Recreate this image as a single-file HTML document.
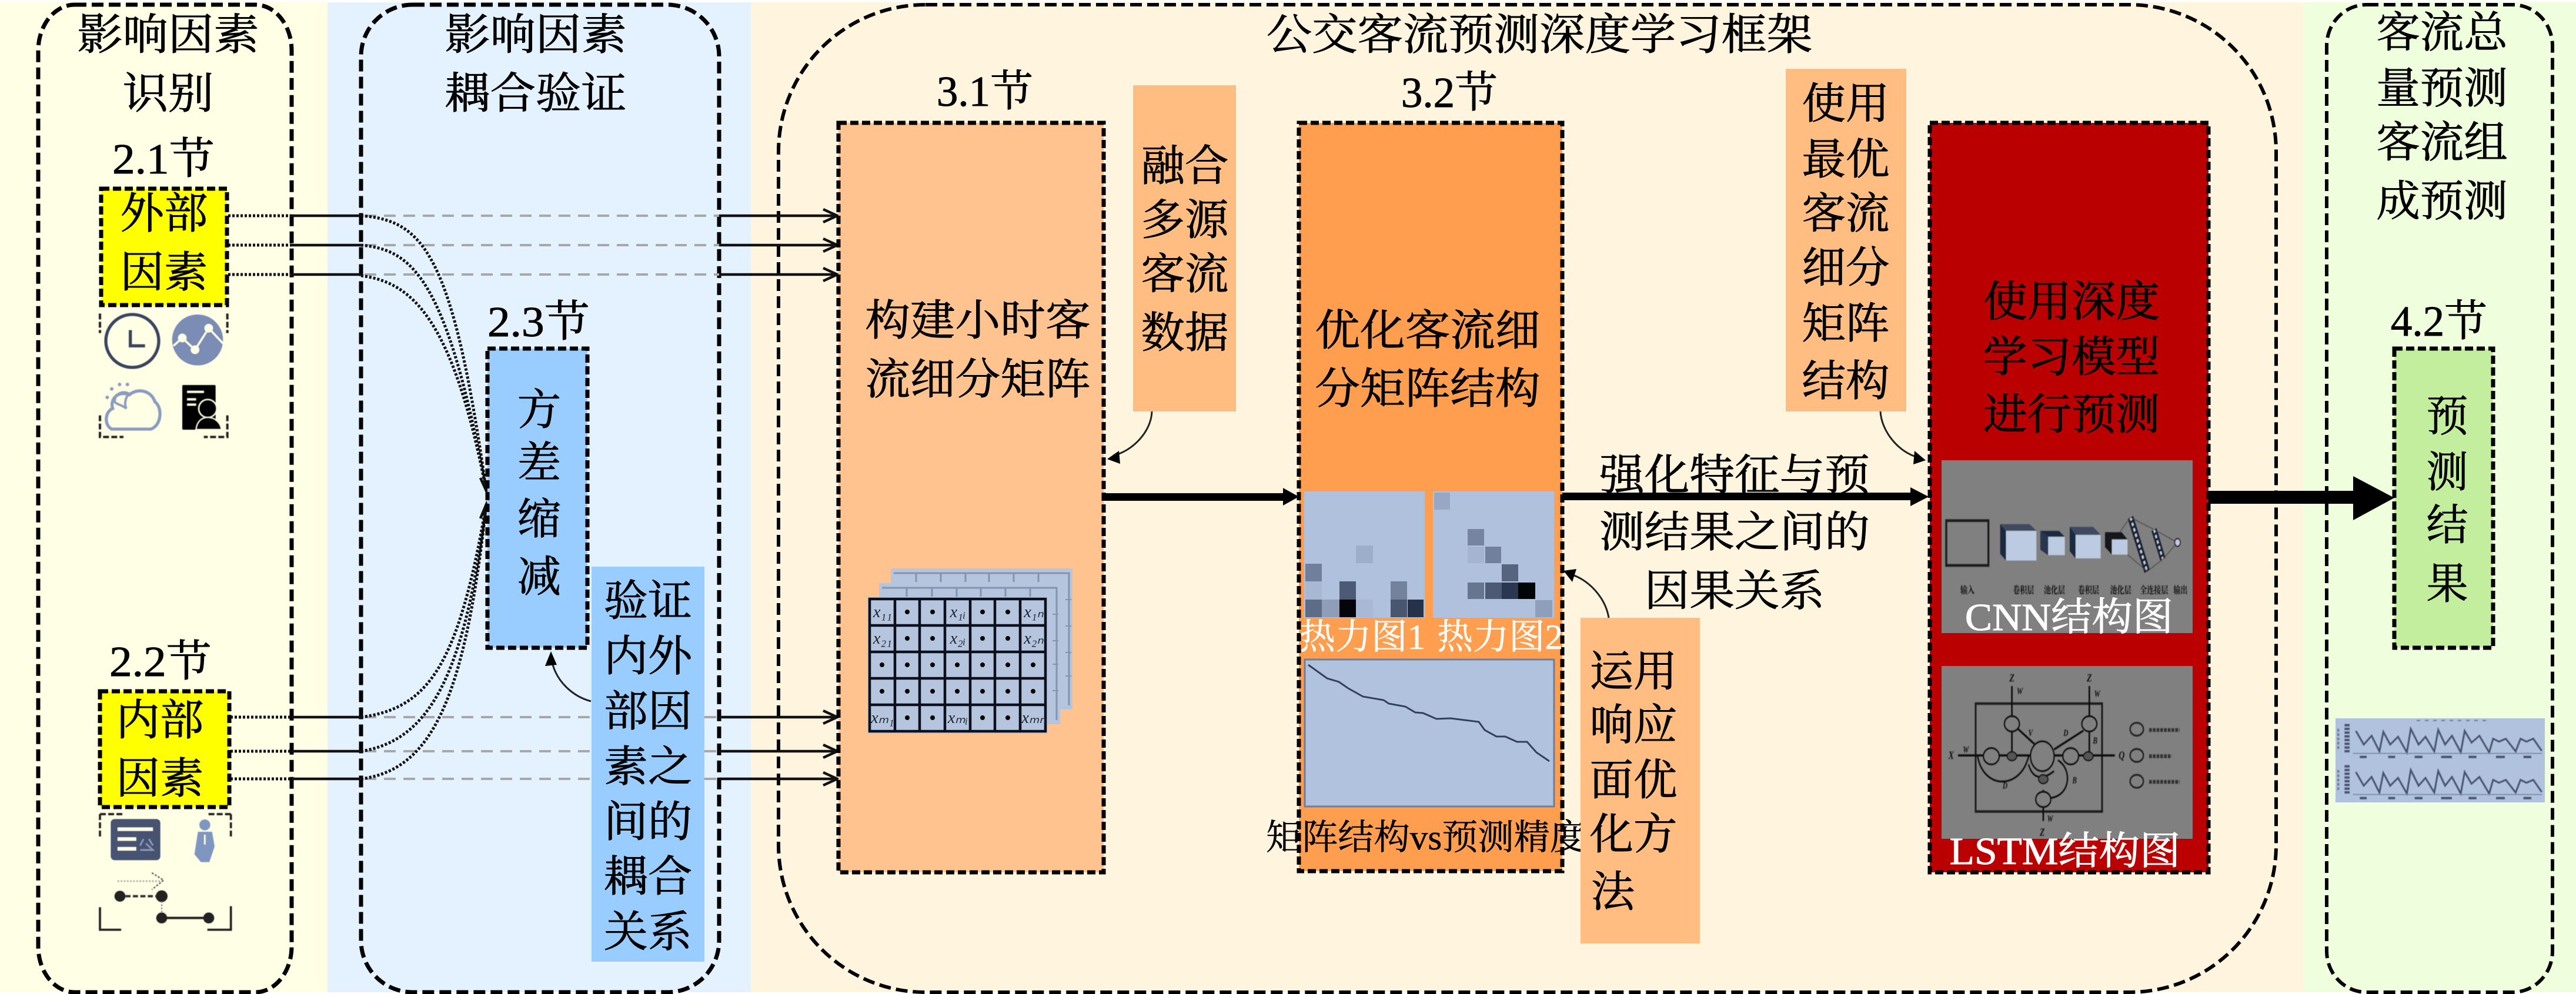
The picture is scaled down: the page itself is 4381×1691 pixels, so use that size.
<!DOCTYPE html>
<html lang="zh">
<head>
<meta charset="utf-8">
<title>公交客流预测深度学习框架</title>
<style>
html,body{margin:0;padding:0;background:#fff;}
svg{display:block;}
text{font-family:"Liberation Serif","Noto Serif CJK SC",serif;text-anchor:middle;fill:#000;font-size:73px;stroke:#000;stroke-width:.9px;}
.w{fill:#fff;stroke:#fff;}
.s{font-size:60px;stroke-width:.5px;}
.m{font-size:66px;}
.n{stroke:none;}
.p{fill:none;stroke:#000;stroke-width:7;stroke-dasharray:20 9;}
.b{stroke:#000;stroke-width:7;stroke-dasharray:14 6;}
.h{fill:none;stroke:#111;stroke-width:4.5;}
.g{fill:none;stroke:#a8a8a8;stroke-width:4;stroke-dasharray:20 13;}
.d{fill:none;stroke:#111;stroke-width:5;stroke-dasharray:4 3;}
.c{fill:none;stroke:#222;stroke-width:3;}
</style>
</head>
<body>
<svg xmlns="http://www.w3.org/2000/svg" width="4381" height="1691" viewBox="0 0 4381 1691">
<defs>
<filter id="bl" x="-5%" y="-5%" width="110%" height="110%"><feGaussianBlur stdDeviation="1.5"/></filter>
</defs>

<!-- backgrounds -->
<rect width="4381" height="1691" fill="#fff"/>
<rect x="0" y="4" width="557" height="1684" fill="#FFFFE6"/>
<rect x="557" y="4" width="720" height="1684" fill="#E4F1FF"/>
<rect x="1277" y="4" width="2640" height="1684" fill="#FFF5DF"/>
<rect x="3917" y="4" width="464" height="1684" fill="#EFFEDC"/>

<!-- large panels -->
<rect class="p" x="65" y="8" width="431" height="1680" rx="62" ry="78"/>
<rect class="p" x="614" y="8" width="609" height="1680" rx="88" ry="88"/>
<rect class="p" x="1324" y="8" width="2547" height="1680" rx="250" ry="250" style="stroke-width:6"/>
<rect class="p" x="3957" y="8" width="384" height="1680" rx="68" ry="70" style="stroke-width:6"/>

<!-- headings -->
<text transform="matrix(1.06 0 0 1 286 84)">影响因素</text>
<text transform="matrix(1.06 0 0 1 286 184)">识别</text>
<text transform="matrix(1.06 0 0 1 911 84)">影响因素</text>
<text transform="matrix(1.06 0 0 1 911 184)">耦合验证</text>
<text transform="matrix(1.06 0 0 1 2618 84)">公交客流预测深度学习框架</text>
<text transform="matrix(1.02 0 0 1 4153 80)">客流总</text>
<text transform="matrix(1.02 0 0 1 4153 175)">量预测</text>
<text transform="matrix(1.02 0 0 1 4153 267)">客流组</text>
<text transform="matrix(1.02 0 0 1 4153 367)">成预测</text>

<!-- section labels -->
<text transform="matrix(1.06 0 0 1 278 295)">2.1节</text>
<text transform="matrix(1.06 0 0 1 273 1150)">2.2节</text>
<text transform="matrix(1.06 0 0 1 916 572)">2.3节</text>
<text transform="matrix(1 0 0 1 1675 180)">3.1节</text>
<text transform="matrix(1 0 0 1 2465 182)">3.2节</text>
<text transform="matrix(1 0 0 1 4148 571)">4.2节</text>

<!-- connectors, left block -->
<path class="d" d="M388 367H496M388 417H496M388 467H496M392 1220H496M392 1278H496M392 1325H496"/>
<path class="h" d="M496 367H614M496 417H614M496 467H614M496 1220H614M496 1278H614M496 1325H614"/>
<path class="g" d="M620 367H1223M620 417H1223M620 467H1223M620 1220H1006M620 1278H1006M620 1325H1006M1198 1220H1223M1198 1278H1223M1198 1325H1223"/>
<path class="h" d="M1223 367H1424M1223 417H1424M1223 467H1424M1223 1220H1424M1223 1278H1424M1223 1325H1424"/>
<path class="h" d="M1400 356L1424 367L1400 378M1400 406L1424 417L1400 428M1400 456L1424 467L1400 478M1400 1209L1424 1220L1400 1231M1400 1267L1424 1278L1400 1289M1400 1314L1424 1325L1400 1336"/>
<path class="d" d="M614 367C720 375 770 430 827 835M614 417C700 425 760 470 827 835M614 469C700 480 770 540 827 835"/>
<path class="d" d="M614 1220C730 1205 780 1130 827 858M614 1278C730 1260 790 1150 827 858M614 1325C730 1310 790 1200 827 858"/>
<path class="h" d="M817 813L827 835L833 808M817 882L827 858L833 877"/>

<!-- yellow boxes -->
<rect class="b" x="172" y="321" width="214" height="198" fill="#FFFF00"/>
<text transform="matrix(1.02 0 0 1 279 388)">外部</text>
<text transform="matrix(1.02 0 0 1 279 488)">因素</text>
<rect class="b" x="170" y="1176" width="220" height="197" fill="#FFFF00"/>
<text transform="matrix(1.02 0 0 1 272 1250)">内部</text>
<text transform="matrix(1.02 0 0 1 272 1349)">因素</text>

<!-- external factor icons -->
<g transform="translate(120 520) scale(.33333)" filter="url(#bl)">
  <path d="M150 40V140M800 40V140M150 560V670H270M800 560V670H680" fill="none" stroke="#222" stroke-width="12" stroke-dasharray="30 12"/>
  <circle cx="315" cy="180" r="135" fill="none" stroke="#3A4560" stroke-width="16"/>
  <path d="M305 125V205H380" fill="none" stroke="#3A4560" stroke-width="16"/>
  <circle cx="648" cy="175" r="130" fill="#7C8DB5"/>
  <path d="M525 205L570 165L635 225L705 115L780 195" fill="none" stroke="#FFFFE6" stroke-width="10"/>
  <circle cx="570" cy="165" r="22" fill="#FFFFE6"/><circle cx="635" cy="225" r="22" fill="#FFFFE6"/><circle cx="705" cy="115" r="22" fill="#FFFFE6"/>
  <path d="M210 630C170 610 175 540 215 525C200 480 240 430 300 455C340 420 410 430 430 490C470 520 465 610 410 630Z" fill="none" stroke="#8B9CC0" stroke-width="16"/>
  <path d="M225 490C225 450 265 430 300 450C275 470 275 510 285 525C260 505 235 505 225 490Z" fill="none" stroke="#8B9CC0" stroke-width="12"/>
  <circle cx="210" cy="425" r="9" fill="#8B9CC0"/><circle cx="250" cy="402" r="9" fill="#8B9CC0"/><circle cx="290" cy="402" r="9" fill="#8B9CC0"/><circle cx="187" cy="468" r="9" fill="#8B9CC0"/>
  <rect x="570" y="405" width="170" height="228" rx="6" fill="#000"/>
  <path d="M595 440H680M595 478H640M595 505H640" stroke="#FFFFE6" stroke-width="10"/>
  <circle cx="700" cy="525" r="46" fill="#000" stroke="#FFFFE6" stroke-width="6"/>
  <path d="M640 632C645 590 670 570 700 570C735 570 765 595 770 632Z" fill="#000" stroke="#FFFFE6" stroke-width="5"/>
</g>

<!-- internal factor icons -->
<g transform="translate(120 1370) scale(.33333)" filter="url(#bl)">
  <path d="M150 45V170M818 45V170M818 45H700M150 45H270" fill="none" stroke="#222" stroke-width="11" stroke-dasharray="30 12"/>
  <path d="M150 520V635H258M818 515V635H698" fill="none" stroke="#222" stroke-width="11"/>
  <rect x="205" y="70" width="253" height="210" rx="20" fill="#46536F"/>
  <path d="M240 122H420M240 172H335M240 222H335" stroke="#FFFFE6" stroke-width="18"/>
  <path d="M372 172L355 205M400 172L420 205M355 228H420L385 195" fill="none" stroke="#8B9CC0" stroke-width="8"/>
  <circle cx="685" cy="100" r="28" fill="#7F96C0"/>
  <path d="M650 135H722L735 210L708 290H665L632 250Z" fill="#7F96C0"/>
  <path d="M685 150V200" stroke="#FFFFE6" stroke-width="8"/>
  <path d="M240 387H470" stroke="#A8A8A0" stroke-width="8" stroke-dasharray="8 8"/>
  <path d="M415 345L475 382L415 430" fill="none" stroke="#555" stroke-width="7" stroke-dasharray="10 8"/>
  <circle cx="252" cy="464" r="28" fill="#222"/><circle cx="465" cy="464" r="30" fill="#222"/>
  <path d="M280 464H440" stroke="#333" stroke-width="12" stroke-dasharray="26 12"/>
  <path d="M465 490V550" stroke="#777" stroke-width="6" stroke-dasharray="8 8"/>
  <circle cx="465" cy="575" r="28" fill="#222"/><circle cx="705" cy="575" r="28" fill="#222"/>
  <path d="M465 575H705" stroke="#222" stroke-width="12"/>
</g>

<!-- variance box -->
<rect class="b" x="829" y="593" width="170" height="509" fill="#99CCFF"/>
<text transform="matrix(1.02 0 0 1 917 722)">方</text>
<text transform="matrix(1.02 0 0 1 917 812)">差</text>
<text transform="matrix(1.02 0 0 1 917 908)">缩</text>
<text transform="matrix(1.02 0 0 1 917 1006)">减</text>

<!-- verification box -->
<rect x="1006" y="964" width="192" height="672" fill="#99CCFF"/>
<text transform="matrix(1.03 0 0 1 1102 1047)">验证</text>
<text transform="matrix(1.03 0 0 1 1102 1141)">内外</text>
<text transform="matrix(1.03 0 0 1 1102 1235)">部因</text>
<text transform="matrix(1.03 0 0 1 1102 1329)">素之</text>
<text transform="matrix(1.03 0 0 1 1102 1423)">间的</text>
<text transform="matrix(1.03 0 0 1 1102 1516)">耦合</text>
<text transform="matrix(1.03 0 0 1 1102 1610)">关系</text>
<path class="c" d="M1005 1193C975 1185 945 1160 938 1122"/>
<path d="M937 1108L927 1133L947 1131Z" fill="#000"/>

<!-- 3.1 box -->
<rect class="b" x="1426" y="209" width="451" height="1275" fill="#FEC38E"/>
<text transform="matrix(1.05 0 0 1 1663 570)">构建小时客</text>
<text transform="matrix(1.05 0 0 1 1663 670)">流细分矩阵</text>

<!-- matrix stack -->
<g>
  <rect x="1515" y="967" width="309" height="240" fill="#B5C5DE"/>
  <path d="M1520 975H1818V1200M1558 975V990M1600 975V990M1642 975V990M1682 975V990M1724 975V990M1766 975V990" fill="none" stroke="#8494B0" stroke-width="3"/>
  <rect x="1495" y="992" width="308" height="240" fill="#B5C5DE"/>
  <path d="M1500 1000H1797V1225M1542 1000V1015M1585 1000V1015M1627 1000V1015M1668 1000V1015M1710 1000V1015M1752 1000V1015" fill="none" stroke="#8494B0" stroke-width="3"/>
  <path d="M1790 1045H1800M1790 1090H1800M1790 1130H1800M1790 1175H1800M1812 1020H1822M1812 1065H1822M1812 1110H1822M1812 1150H1822" stroke="#8494B0" stroke-width="2"/>
  <rect x="1476" y="1016" width="305" height="232" fill="#B5C5DE"/>
  <path d="M1479 1019H1778V1244H1479ZM1479 1064H1778M1479 1109H1778M1479 1154H1778M1479 1199H1778M1522 1019V1244M1564 1019V1244M1607 1019V1244M1650 1019V1244M1692 1019V1244M1735 1019V1244" fill="none" stroke="#0A0F1C" stroke-width="4.5"/>
  <path d="M1543 1041h0M1586 1041h0M1671 1041h0M1714 1041h0M1543 1086h0M1586 1086h0M1671 1086h0M1714 1086h0M1500 1131h0M1543 1131h0M1586 1131h0M1628 1131h0M1671 1131h0M1714 1131h0M1757 1131h0M1500 1176h0M1543 1176h0M1586 1176h0M1628 1176h0M1671 1176h0M1714 1176h0M1757 1176h0M1543 1221h0M1586 1221h0M1671 1221h0M1714 1221h0" stroke="#000" stroke-width="8" stroke-linecap="round"/>
  <g style="font-style:italic">
    <text class="n" x="1501" y="1050" style="font-size:28px;fill:#1c2130">x₁₁</text>
    <text class="n" x="1629" y="1050" style="font-size:28px;fill:#1c2130">x₁ᵢ</text>
    <text class="n" x="1758" y="1050" style="font-size:28px;fill:#1c2130">x₁ₙ</text>
    <text class="n" x="1501" y="1095" style="font-size:28px;fill:#1c2130">x₂₁</text>
    <text class="n" x="1629" y="1095" style="font-size:28px;fill:#1c2130">x₂ᵢ</text>
    <text class="n" x="1758" y="1095" style="font-size:28px;fill:#1c2130">x₂ₙ</text>
    <text class="n" x="1501" y="1230" style="font-size:28px;fill:#1c2130">xₘ₁</text>
    <text class="n" x="1629" y="1230" style="font-size:28px;fill:#1c2130">xₘᵢ</text>
    <text class="n" x="1758" y="1230" style="font-size:28px;fill:#1c2130">xₘₙ</text>
  </g>
</g>

<!-- fuse box -->
<rect x="1927" y="145" width="175" height="555" fill="#FFBD82"/>
<text transform="matrix(1.02 0 0 1 2015 307)">融合</text>
<text transform="matrix(1.02 0 0 1 2015 399)">多源</text>
<text transform="matrix(1.02 0 0 1 2015 491)">客流</text>
<text transform="matrix(1.02 0 0 1 2015 591)">数据</text>
<path class="c" d="M1959 700C1958 735 1925 768 1893 775"/>
<path d="M1883 781L1903 767L1905 789Z" fill="#000"/>

<!-- thick arrow 3.1 to 3.2 -->
<path d="M1877 839H2182V830L2209 845L2182 860V852H1877Z" fill="#000"/>

<!-- 3.2 box -->
<rect class="b" x="2209" y="209" width="448" height="1273" fill="#FF9E4F"/>
<text transform="matrix(1.05 0 0 1 2428 587)">优化客流细</text>
<text transform="matrix(1.05 0 0 1 2428 686)">分矩阵结构</text>

<!-- heat map 1 -->
<rect x="2218" y="836" width="205" height="215" fill="#B0C1DD"/>
<g>
  <rect x="2306" y="928" width="29" height="30" fill="#9DAECB"/>
  <rect x="2220" y="959" width="28" height="30" fill="#6F7F9C"/>
  <rect x="2220" y="989" width="28" height="31" fill="#A8B8D3"/>
  <rect x="2278" y="989" width="28" height="31" fill="#4C5A75"/>
  <rect x="2365" y="989" width="28" height="31" fill="#75829B"/>
  <rect x="2220" y="1020" width="28" height="30" fill="#5E6C88"/>
  <rect x="2248" y="1020" width="30" height="30" fill="#8F9DB8"/>
  <rect x="2278" y="1020" width="28" height="30" fill="#03050A"/>
  <rect x="2306" y="1020" width="29" height="30" fill="#A9B9D5"/>
  <rect x="2365" y="1020" width="28" height="30" fill="#4A566F"/>
  <rect x="2394" y="1020" width="27" height="30" fill="#26324A"/>
</g>
<!-- heat map 2 -->
<rect x="2437" y="836" width="206" height="215" fill="#B0C1DD"/>
<g>
  <rect x="2439" y="838" width="27" height="29" fill="#98A8C4"/>
  <rect x="2496" y="900" width="28" height="28" fill="#76849F"/>
  <rect x="2496" y="930" width="28" height="28" fill="#A5B4CF"/>
  <rect x="2526" y="930" width="27" height="28" fill="#71809C"/>
  <rect x="2554" y="960" width="28" height="29" fill="#566480"/>
  <rect x="2496" y="991" width="28" height="28" fill="#667590"/>
  <rect x="2526" y="991" width="28" height="28" fill="#4D5A75"/>
  <rect x="2554" y="991" width="28" height="28" fill="#2B3650"/>
  <rect x="2582" y="991" width="29" height="28" fill="#020408"/>
  <rect x="2611" y="1021" width="29" height="29" fill="#8F9EBA"/>
</g>
<text class="w s" transform="matrix(1.02 0 0 1 2317 1104)">热力图1</text>
<text class="w s" transform="matrix(1.02 0 0 1 2551 1104)">热力图2</text>

<!-- plot -->
<rect x="2219" y="1122" width="424" height="250" fill="#B0C2DE" stroke="#6E7F9E" stroke-width="3"/>
<polyline points="2225,1131 2257,1154 2277,1160 2293,1171 2318,1185 2353,1191 2362,1197 2390,1202 2407,1212 2420,1213 2443,1223 2467,1222 2515,1228 2525,1242 2545,1253 2560,1253 2580,1262 2597,1262 2613,1280 2635,1295" fill="none" stroke="#34405A" stroke-width="3"/>
<text class="s" transform="matrix(1.02 0 0 1 2425 1445)">矩阵结构vs预测精度</text>

<!-- RSM box -->
<rect x="2688" y="1051" width="203" height="554" fill="#FFBD82"/>
<text transform="matrix(1.02 0 0 1 2778 1167)">运用</text>
<text transform="matrix(1.02 0 0 1 2778 1258)">响应</text>
<text transform="matrix(1.02 0 0 1 2778 1352)">面优</text>
<text transform="matrix(1.02 0 0 1 2778 1444)">化方</text>
<text transform="matrix(1.02 0 0 1 2743 1542)">法</text>
<path class="c" d="M2736 1051C2730 1015 2700 985 2671 977"/>
<path d="M2659 971L2681 968L2674 990Z" fill="#000"/>

<!-- middle text + arrow -->
<path d="M2657 838H3249V829L3280 845L3249 861V851H2657Z" fill="#000"/>
<text transform="matrix(1.05 0 0 1 2950 833)">强化特征与预</text>
<text transform="matrix(1.05 0 0 1 2950 930)">测结果之间的</text>
<text transform="matrix(1.05 0 0 1 2950 1030)">因果关系</text>

<!-- use matrix box -->
<rect x="3037" y="117" width="205" height="583" fill="#FFBD82"/>
<text transform="matrix(1.02 0 0 1 3139 201)">使用</text>
<text transform="matrix(1.02 0 0 1 3139 296)">最优</text>
<text transform="matrix(1.02 0 0 1 3139 388)">客流</text>
<text transform="matrix(1.02 0 0 1 3139 480)">细分</text>
<text transform="matrix(1.02 0 0 1 3139 575)">矩阵</text>
<text transform="matrix(1.02 0 0 1 3139 673)">结构</text>
<path class="c" d="M3198 700C3200 735 3230 770 3262 778"/>
<path d="M3275 783L3254 790L3256 767Z" fill="#000"/>

<!-- DL box -->
<rect class="b" x="3282" y="209" width="474" height="1275" fill="#BA0000"/>
<text transform="matrix(1.03 0 0 1 3523 538)">使用深度</text>
<text transform="matrix(1.03 0 0 1 3523 632)">学习模型</text>
<text transform="matrix(1.03 0 0 1 3523 730)">进行预测</text>
<rect x="3302" y="783" width="427" height="294" fill="#808080"/>
<rect x="3302" y="1133" width="427" height="294" fill="#808080"/>

<!-- CNN + LSTM thumbnails -->
<g transform="translate(3280 770) scale(.33333 .4591)" filter="url(#bl)">
  <rect x="90" y="252" width="215" height="166" fill="none" stroke="#1a1a1a" stroke-width="10"/>
  <path d="M365 265H515L550 290H395Z" fill="#3f4a60"/><path d="M365 265L395 290V400L365 375Z" fill="#1f2a40"/><rect x="395" y="290" width="155" height="110" fill="#BCCBE2"/>
  <path d="M570 290H665L695 312H610Z" fill="#1f2a40"/><path d="M570 290L610 312V380L570 360Z" fill="#2c3650"/><rect x="610" y="312" width="85" height="68" fill="#BCCBE2"/>
  <path d="M720 275H840L878 305H750Z" fill="#3f4a60"/><path d="M720 275L750 305V392L720 365Z" fill="#1f2a40"/><rect x="750" y="305" width="128" height="87" fill="#BCCBE2"/>
  <path d="M900 295H985L1015 322H935Z" fill="#15181f"/><path d="M900 295L935 322V378L900 350Z" fill="#15181f"/><rect x="935" y="322" width="80" height="56" fill="#BCCBE2"/>
  <path d="M1030 240L1115 440" stroke="#1c2130" stroke-width="30"/>
  <path d="M1030 240L1115 440" stroke="#BCCBE2" stroke-width="10" stroke-dasharray="12 10"/>
  <path d="M1150 285L1195 395" stroke="#1c2130" stroke-width="28"/>
  <path d="M1150 285L1195 395" stroke="#BCCBE2" stroke-width="9" stroke-dasharray="12 10"/>
  <path d="M1030 240L975 295M1115 440L1015 378M1030 240L1150 285M1115 440L1195 395M1150 285L1270 333M1195 395L1270 333" stroke="#444" stroke-width="3" fill="none"/>
  <circle cx="1270" cy="333" r="14" fill="#BCCBE2" stroke="#222" stroke-width="5"/>
  <g style="font-weight:bold">
    <text class="n" x="198" y="522" style="font-size:36px;fill:#111">输入</text>
    <text class="n" x="484" y="522" style="font-size:36px;fill:#111">卷积层</text>
    <text class="n" x="642" y="522" style="font-size:36px;fill:#111">池化层</text>
    <text class="n" x="816" y="522" style="font-size:36px;fill:#111">卷积层</text>
    <text class="n" x="980" y="522" style="font-size:36px;fill:#111">池化层</text>
    <text class="n" x="1150" y="522" style="font-size:36px;fill:#111">全连接层</text>
    <text class="n" x="1285" y="522" style="font-size:36px;fill:#111">输出</text>
  </g>
  <rect x="240" y="930" width="645" height="400" fill="none" stroke="#1a1a1a" stroke-width="9"/>
  <path d="M425 865V1125M820 865V1125M150 1122H950M450 1020L540 1080M790 1030L640 1100M585 1250V1365" fill="none" stroke="#111" stroke-width="8"/>
  <path d="M250 1125C280 1250 470 1250 510 1125M510 1155C530 1210 580 1215 640 1180M660 1140C730 1170 730 1270 620 1280" fill="none" stroke="#111" stroke-width="7"/>
  <ellipse cx="425" cy="1005" rx="38" ry="28" fill="#808080" stroke="#111" stroke-width="7"/>
  <ellipse cx="820" cy="1005" rx="38" ry="28" fill="#808080" stroke="#111" stroke-width="7"/>
  <ellipse cx="320" cy="1125" rx="40" ry="30" fill="#808080" stroke="#111" stroke-width="7"/>
  <ellipse cx="725" cy="1125" rx="40" ry="30" fill="#808080" stroke="#111" stroke-width="7"/>
  <ellipse cx="425" cy="1125" rx="24" ry="16" fill="#555" stroke="#111" stroke-width="5"/>
  <ellipse cx="815" cy="1125" rx="24" ry="16" fill="#555" stroke="#111" stroke-width="5"/>
  <ellipse cx="580" cy="1125" rx="60" ry="55" fill="#808080" stroke="#111" stroke-width="7"/>
  <ellipse cx="585" cy="1210" rx="24" ry="16" fill="#555" stroke="#111" stroke-width="5"/>
  <ellipse cx="585" cy="1285" rx="38" ry="28" fill="#808080" stroke="#111" stroke-width="7"/>
  <ellipse cx="1062" cy="1025" rx="34" ry="24" fill="none" stroke="#222" stroke-width="7"/>
  <ellipse cx="1062" cy="1122" rx="34" ry="24" fill="none" stroke="#222" stroke-width="7"/>
  <ellipse cx="1062" cy="1218" rx="34" ry="24" fill="none" stroke="#222" stroke-width="7"/>
  <path d="M1125 1028H1280M1125 1125H1240M1125 1220H1280" stroke="#333" stroke-width="14" stroke-dasharray="14 5"/>
  <g style="font-style:italic;font-weight:bold">
    <text class="n" x="425" y="848" style="font-size:42px;fill:#111">Z</text>
    <text class="n" x="820" y="848" style="font-size:42px;fill:#111">Z</text>
    <text class="n" x="115" y="1135" style="font-size:42px;fill:#111">X</text>
    <text class="n" x="985" y="1135" style="font-size:42px;fill:#111">Q</text>
    <text class="n" x="580" y="1420" style="font-size:42px;fill:#111">Z</text>
    <text class="n" x="465" y="895" style="font-size:34px;fill:#111">W</text>
    <text class="n" x="860" y="905" style="font-size:34px;fill:#111">W</text>
    <text class="n" x="190" y="1112" style="font-size:34px;fill:#111">W</text>
    <text class="n" x="620" y="1368" style="font-size:34px;fill:#111">W</text>
    <text class="n" x="520" y="1050" style="font-size:34px;fill:#111">V</text>
    <text class="n" x="700" y="1050" style="font-size:34px;fill:#111">D</text>
    <text class="n" x="850" y="1078" style="font-size:34px;fill:#111">B</text>
    <text class="n" x="390" y="1245" style="font-size:34px;fill:#111">D</text>
    <text class="n" x="745" y="1225" style="font-size:34px;fill:#111">B</text>
  </g>
</g>
<text class="w m" transform="matrix(1.05 0 0 1 3519 1072)">CNN结构图</text>
<text class="w m" transform="matrix(1.05 0 0 1 3512 1470)">LSTM结构图</text>

<!-- result arrow -->
<path d="M3756 835H4002V810L4072 847L4002 885V857H3756Z" fill="#000"/>

<!-- green box -->
<rect class="b" x="4072" y="593" width="168" height="509" fill="#C3EE9D"/>
<text transform="matrix(.97 0 0 1 4162 733)">预</text>
<text transform="matrix(.97 0 0 1 4162 828)">测</text>
<text transform="matrix(.97 0 0 1 4162 918)">结</text>
<text transform="matrix(.97 0 0 1 4162 1018)">果</text>

<!-- time series thumbnail -->
<rect x="3972" y="1222" width="356" height="143" fill="#B0C2DE"/>
<g transform="translate(3950 1190) scale(.33333)" filter="url(#bl)">
  <polyline points="170,160 210,230 250,185 290,265 310,165 345,230 385,190 430,270 450,150 490,230 525,190 570,265 590,155 625,230 660,185 705,270 725,160 760,220 800,185 850,270 870,200 900,215 935,200 985,265 1010,200 1040,215 1075,200 1118,262" fill="none" stroke="#4A5570" stroke-width="9"/>
  <polyline transform="translate(0 210)" points="170,160 210,230 250,185 290,265 310,165 345,230 385,190 430,270 450,150 490,230 525,190 570,265 590,155 625,230 660,185 705,270 725,160 760,220 800,185 850,270 870,200 900,215 935,200 985,265 1010,200 1040,215 1075,200 1118,262" fill="none" stroke="#4A5570" stroke-width="9"/>
  <path d="M155 275H1120M155 485H1120" stroke="#7888A8" stroke-width="5"/>
  <path d="M190 293H225M335 293H370M470 293H510M605 293H660M745 293H785M885 293H930M1025 293H1065M190 503H225M335 503H370M470 503H510M605 503H660M745 503H785M885 503H930M1025 503H1065" stroke="#4A5570" stroke-width="12"/>
  <path d="M125 125V275M125 335V485" stroke="#4A5570" stroke-width="26" stroke-dasharray="12 7"/>
  <path d="M80 150V260M80 360V465" stroke="#6C7A98" stroke-width="10" stroke-dasharray="14 8"/>
  <path d="M480 107H850" stroke="#6C7A98" stroke-width="6" stroke-dasharray="18 24"/>
</g>
</svg>
</body>
</html>
